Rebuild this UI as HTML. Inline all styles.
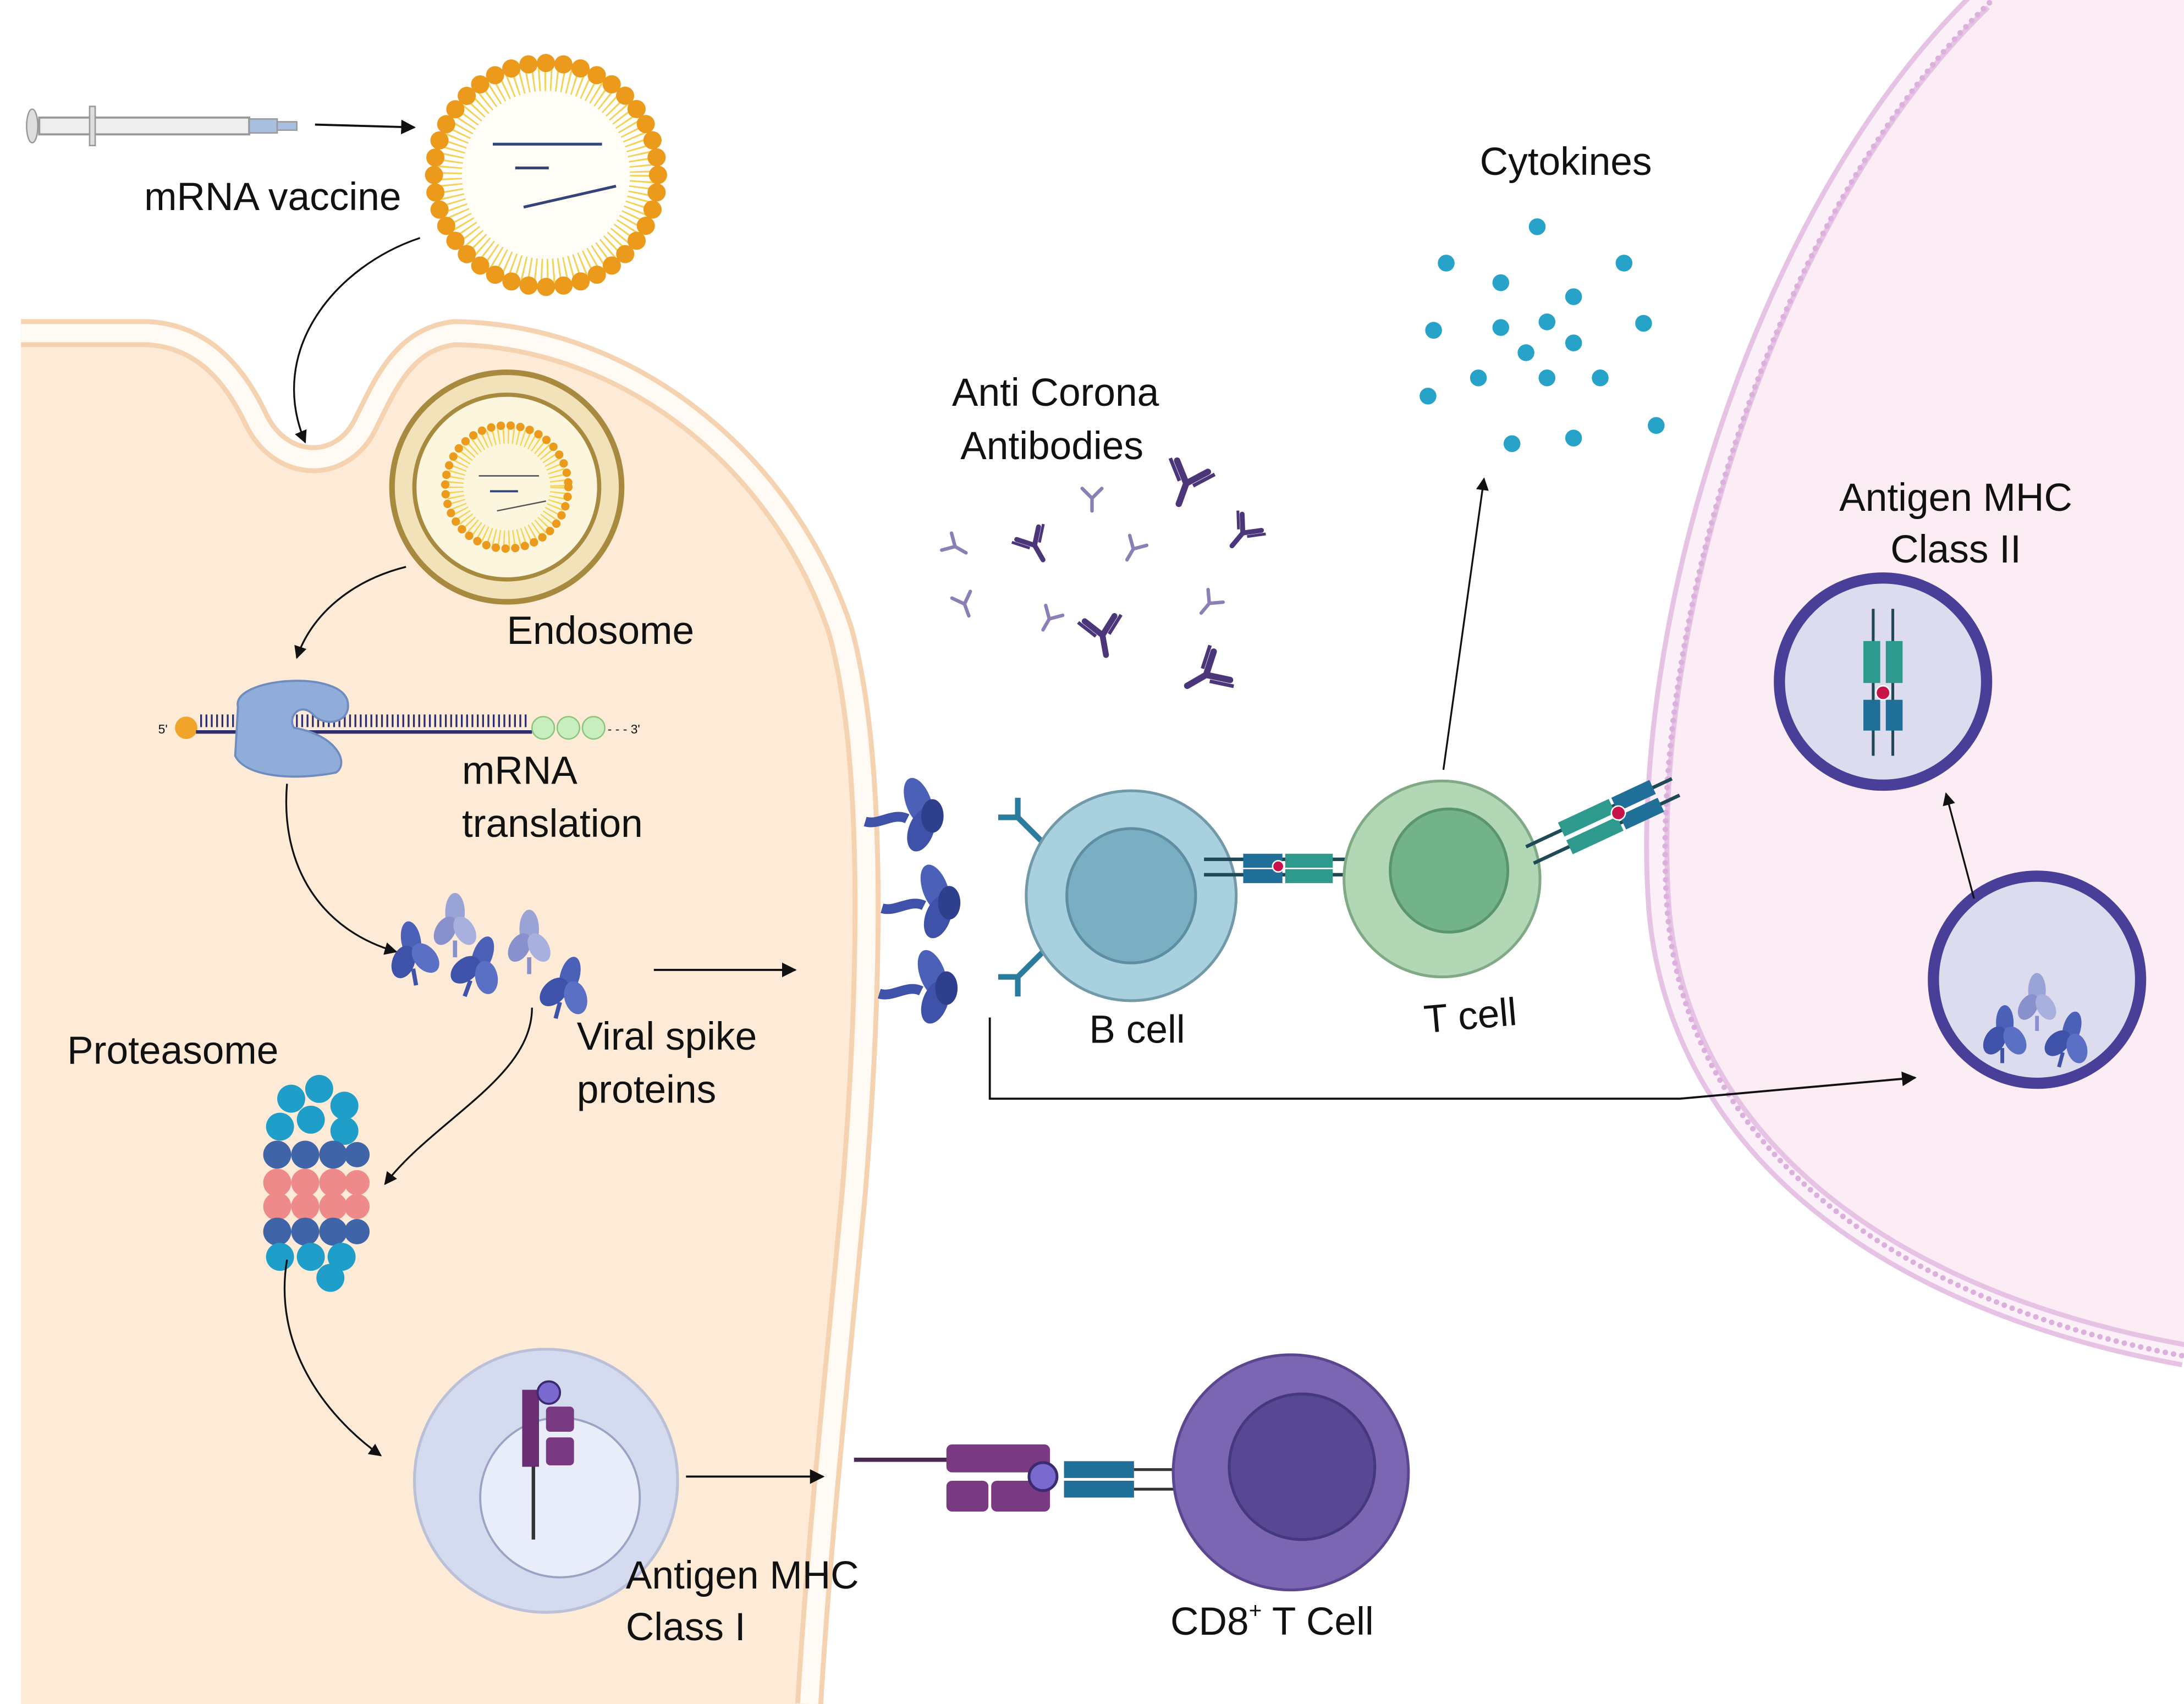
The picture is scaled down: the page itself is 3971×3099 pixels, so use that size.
<!DOCTYPE html>
<html><head><meta charset="utf-8"><style>
html,body{margin:0;padding:0;background:#fff}
svg{display:block}
text{font-family:"Liberation Sans",sans-serif;fill:#111}
</style></head><body>
<svg width="3971" height="3099" viewBox="0 0 1560 1217.5" preserveAspectRatio="none" xmlns="http://www.w3.org/2000/svg">
<defs>
<marker id="ah" viewBox="0 0 10 10" refX="9" refY="5" markerWidth="7" markerHeight="7" orient="auto-start-reverse"><path d="M0,0 L10,5 L0,10 z" fill="#111"/></marker>
<g id="ab"><path d="M0,0 L0,-12 M0,-12 L-9,-22 M0,-12 L9,-22" stroke="#4a3678" stroke-width="3.5" fill="none" stroke-linecap="round"/><path d="M-4,-12 L-13,-22 M4,-12 L13,-22" stroke="#4a3678" stroke-width="2" fill="none"/></g>
<g id="abl"><path d="M0,0 L0,-9 M0,-9 L-7,-16 M0,-9 L7,-16" stroke="#8b7fb6" stroke-width="2.5" fill="none" stroke-linecap="round"/></g>
<g id="spk"><ellipse cx="0" cy="-8" rx="7" ry="14" fill="#4b61b8"/><ellipse cx="-8" cy="6" rx="8" ry="12" fill="#3d52a8" transform="rotate(30 -8 6)"/><ellipse cx="8" cy="6" rx="8" ry="12" fill="#5a70c4" transform="rotate(-30 8 6)"/><path d="M-2,12 L-2,24" stroke="#3d52a8" stroke-width="3"/></g>
<g id="spkl"><ellipse cx="0" cy="-8" rx="7" ry="14" fill="#9aa3d6"/><ellipse cx="-7" cy="5" rx="7" ry="11" fill="#8891cb" transform="rotate(30 -7 5)"/><ellipse cx="7" cy="5" rx="7" ry="11" fill="#a8b0de" transform="rotate(-30 7 5)"/><path d="M0,12 L0,24" stroke="#8891cb" stroke-width="3"/></g>
<g id="mspk"><path d="M0,0 C-10,-5 -20,5 -30,2" stroke="#3d52a8" stroke-width="7" fill="none"/><ellipse cx="8" cy="-12" rx="9" ry="18" fill="#4b61b8" transform="rotate(-20 8 -12)"/><ellipse cx="10" cy="8" rx="9" ry="16" fill="#3d52a8" transform="rotate(20 10 8)"/><ellipse cx="18" cy="-2" rx="8" ry="12" fill="#2e3f8e"/></g>
<g id="bab"><path d="M0,0 L-18,-18 M-18,-18 L-32,-18 M-18,-18 L-18,-32" stroke="#2a7c9e" stroke-width="4" fill="none"/></g>
</defs>

<!-- right pink cell -->
<path d="M1415,0 C1260,150 1170,450 1185,650 C1200,820 1350,930 1560,968 L1560,0 Z" fill="#fcedf5"/>
<path d="M1415,0 C1260,150 1170,450 1185,650 C1200,820 1350,930 1560,968" fill="none" stroke="#e6c2e4" stroke-width="18"/>
<path d="M1415,0 C1260,150 1170,450 1185,650 C1200,820 1350,930 1560,968" fill="none" stroke="#fbf0f8" stroke-width="11"/>
<path d="M1415,0 C1260,150 1170,450 1185,650 C1200,820 1350,930 1560,968" fill="none" stroke="#dcb0dc" stroke-width="4" stroke-dasharray="0 6" stroke-linecap="round" transform="translate(6,2)"/>

<!-- left cell -->
<path d="M15,238 L105,238 C145,240 168,268 183,300 C200,335 242,338 260,305 C275,275 288,242 325,238 C450,240 560,330 600,450 C625,540 622,700 610,850 C598,980 585,1100 578,1217.5 L15,1217.5 Z" fill="#fdebd8"/>
<path d="M15,238 L105,238 C145,240 168,268 183,300 C200,335 242,338 260,305 C275,275 288,242 325,238 C450,240 560,330 600,450 C625,540 622,700 610,850 C598,980 585,1100 578,1217.5" fill="none" stroke="#f5d2b0" stroke-width="20"/>
<path d="M15,238 L105,238 C145,240 168,268 183,300 C200,335 242,338 260,305 C275,275 288,242 325,238 C450,240 560,330 600,450 C625,540 622,700 610,850 C598,980 585,1100 578,1217.5" fill="none" stroke="#fffaf4" stroke-width="13"/>

<!-- syringe -->
<rect x="28" y="84" width="150" height="12" fill="#eee" stroke="#999" stroke-width="1.5"/>
<rect x="178" y="85" width="20" height="10" fill="#a9bfe0" stroke="#999"/>
<rect x="198" y="87" width="14" height="6" fill="#a9bfe0" stroke="#999"/>
<rect x="64" y="76" width="4" height="28" fill="#ddd" stroke="#999"/>
<ellipse cx="23" cy="90" rx="4" ry="12" fill="#ddd" stroke="#999"/>
<line x1="225" y1="89" x2="296" y2="91" stroke="#111" stroke-width="1.5" marker-end="url(#ah)"/>

<!-- LNP -->
<circle cx="390" cy="125" r="68" fill="none" stroke="#f3d25a" stroke-width="24" stroke-dasharray="1.2 3"/>
<circle cx="390" cy="125" r="60" fill="#fffdf5"/>
<circle cx="390" cy="125" r="80" fill="none" stroke="#eb9a1c" stroke-width="13" stroke-dasharray="0 12.56" stroke-linecap="round"/>
<line x1="352" y1="103" x2="430" y2="103" stroke="#33447a" stroke-width="2"/><line x1="368" y1="120" x2="392" y2="120" stroke="#33447a" stroke-width="2"/><line x1="374" y1="148" x2="440" y2="133" stroke="#33447a" stroke-width="2"/>
<text x="103" y="150" font-size="28">mRNA vaccine</text>
<path d="M300,170 C240,190 190,250 218,316" fill="none" stroke="#111" stroke-width="1.3" marker-end="url(#ah)"/>

<!-- endosome -->
<circle cx="362" cy="348" r="82" fill="#f1e2b9" stroke="#a88a3f" stroke-width="4"/>
<circle cx="362" cy="348" r="66" fill="#fbf6dd" stroke="#a88a3f" stroke-width="3"/>
<circle cx="362" cy="348" r="37" fill="none" stroke="#f3d25a" stroke-width="12" stroke-dasharray="1 2.5"/>
<circle cx="362" cy="348" r="44" fill="none" stroke="#eb9a1c" stroke-width="6" stroke-dasharray="0 7" stroke-linecap="round"/>
<line x1="342" y1="340" x2="385" y2="340" stroke="#555" stroke-width="1"/><line x1="350" y1="351" x2="370" y2="351" stroke="#33447a" stroke-width="1.5"/><line x1="355" y1="365" x2="390" y2="358" stroke="#555" stroke-width="1"/>
<text x="362" y="460" font-size="28">Endosome</text>
<path d="M290,405 C250,415 222,440 212,470" fill="none" stroke="#111" stroke-width="1.3" marker-end="url(#ah)"/>

<!-- mRNA translation -->
<text x="113" y="524" font-size="9">5'</text>
<circle cx="133" cy="520" r="8" fill="#f0a52a"/>
<line x1="140" y1="523" x2="380" y2="523" stroke="#2c2e6e" stroke-width="2.5"/>
<line x1="143" y1="515" x2="378" y2="515" stroke="#2c2e6e" stroke-width="9" stroke-dasharray="1.3 2.5"/>
<circle cx="388" cy="520" r="8" fill="#c8eebd" stroke="#8cc47e"/><circle cx="406" cy="520" r="8" fill="#c8eebd" stroke="#8cc47e"/><circle cx="424" cy="520" r="8" fill="#c8eebd" stroke="#8cc47e"/>
<text x="434" y="524" font-size="9" fill="#333">- - - 3'</text>
<path d="M170,505 C165,485 240,478 248,500 C252,515 235,520 225,512 C215,500 205,512 210,520 C240,525 250,545 240,552 C210,558 175,555 168,540 Z" fill="#90acd8" stroke="#6f8cc0" stroke-width="1.5"/>
<text x="330" y="560" font-size="28">mRNA</text>
<text x="330" y="598" font-size="28">translation</text>
<path d="M205,560 C200,620 230,665 283,680" fill="none" stroke="#111" stroke-width="1.3" marker-end="url(#ah)"/>

<!-- spike proteins -->
<use href="#spk" transform="translate(295,680) rotate(-10)"/>
<use href="#spkl" transform="translate(325,660)"/>
<use href="#spk" transform="translate(342,690) rotate(20)"/>
<use href="#spkl" transform="translate(378,672)"/>
<use href="#spk" transform="translate(405,705) rotate(15)"/>
<text x="412" y="750" font-size="28">Viral spike</text>
<text x="412" y="788" font-size="28">proteins</text>
<line x1="467" y1="693" x2="568" y2="693" stroke="#111" stroke-width="1.5" marker-end="url(#ah)"/>
<path d="M380,720 C380,770 310,800 275,846" fill="none" stroke="#111" stroke-width="1.3" marker-end="url(#ah)"/>

<!-- proteasome -->
<text x="48" y="760" font-size="28">Proteasome</text>
<g>
<circle cx="208" cy="785" r="10" fill="#1e9ec9"/><circle cx="228" cy="778" r="10" fill="#1e9ec9"/><circle cx="246" cy="790" r="10" fill="#1e9ec9"/><circle cx="200" cy="805" r="10" fill="#1e9ec9"/><circle cx="222" cy="800" r="10" fill="#1e9ec9"/><circle cx="246" cy="808" r="10" fill="#1e9ec9"/>
<circle cx="198" cy="825" r="10" fill="#3f64a8"/><circle cx="218" cy="825" r="10" fill="#3f64a8"/><circle cx="238" cy="825" r="10" fill="#3f64a8"/><circle cx="255" cy="825" r="9" fill="#3f64a8"/>
<circle cx="198" cy="845" r="10" fill="#ef8a8a"/><circle cx="218" cy="845" r="10" fill="#ef8a8a"/><circle cx="238" cy="845" r="10" fill="#ef8a8a"/><circle cx="255" cy="845" r="9" fill="#ef8a8a"/>
<circle cx="198" cy="862" r="10" fill="#ef8a8a"/><circle cx="218" cy="862" r="10" fill="#ef8a8a"/><circle cx="238" cy="862" r="10" fill="#ef8a8a"/><circle cx="255" cy="862" r="9" fill="#ef8a8a"/>
<circle cx="198" cy="880" r="10" fill="#3f64a8"/><circle cx="218" cy="880" r="10" fill="#3f64a8"/><circle cx="238" cy="880" r="10" fill="#3f64a8"/><circle cx="255" cy="880" r="9" fill="#3f64a8"/>
<circle cx="200" cy="898" r="10" fill="#1e9ec9"/><circle cx="222" cy="898" r="10" fill="#1e9ec9"/><circle cx="244" cy="898" r="10" fill="#1e9ec9"/><circle cx="236" cy="913" r="10" fill="#1e9ec9"/>
</g>
<path d="M205,900 C195,960 230,1010 272,1040" fill="none" stroke="#111" stroke-width="1.3" marker-end="url(#ah)"/>

<!-- MHC I vesicle -->
<circle cx="390" cy="1058" r="94" fill="#d5dbee" stroke="#b9c0d8" stroke-width="2"/>
<circle cx="400" cy="1070" r="57" fill="#e9edfa" stroke="#9aa3c4" stroke-width="1.5"/>
<rect x="373" y="993" width="12" height="55" fill="#6a2d72"/><rect x="390" y="1005" width="20" height="18" rx="3" fill="#7a3a82"/><rect x="390" y="1027" width="20" height="20" rx="3" fill="#7a3a82"/>
<circle cx="392" cy="995" r="8" fill="#7a6ad0" stroke="#3b2a70" stroke-width="1.5"/>
<line x1="381" y1="1048" x2="381" y2="1100" stroke="#333" stroke-width="2.5"/>
<text x="447" y="1135" font-size="28">Antigen MHC</text>
<text x="447" y="1172" font-size="28">Class I</text>
<line x1="490" y1="1055" x2="588" y2="1055" stroke="#111" stroke-width="1.5" marker-end="url(#ah)"/>

<!-- MHC I on membrane + CD8 -->
<line x1="610" y1="1043" x2="678" y2="1043" stroke="#4a2a55" stroke-width="3"/>
<rect x="676" y="1032" width="74" height="20" rx="4" fill="#7a3a82"/>
<rect x="676" y="1058" width="30" height="22" rx="4" fill="#7a3a82"/><rect x="708" y="1058" width="42" height="22" rx="4" fill="#7a3a82"/>
<circle cx="745" cy="1055" r="10" fill="#7a6ad0" stroke="#3b2a70" stroke-width="2"/>
<rect x="760" y="1044" width="50" height="12" fill="#1f6f98"/><rect x="760" y="1058" width="50" height="12" fill="#1f6f98"/>
<line x1="810" y1="1050" x2="845" y2="1050" stroke="#333" stroke-width="2"/><line x1="810" y1="1064" x2="845" y2="1064" stroke="#333" stroke-width="2"/>
<circle cx="922" cy="1052" r="84" fill="#7a66b2" stroke="#5a4790" stroke-width="2"/>
<circle cx="930" cy="1048" r="52" fill="#574896" stroke="#46387e" stroke-width="2"/>
<text x="836" y="1168" font-size="28">CD8<tspan font-size="16" dy="-12">+</tspan><tspan dy="12"> T Cell</tspan></text>

<!-- antibodies -->
<text x="680" y="290" font-size="28">Anti Corona</text>
<text x="686" y="328" font-size="28">Antibodies</text>
<use href="#ab" transform="translate(842,360) rotate(20) scale(1.3)"/>
<use href="#abl" transform="translate(780,365)"/>
<use href="#ab" transform="translate(745,400) rotate(-30)"/>
<use href="#abl" transform="translate(690,395) rotate(-60)"/>
<use href="#abl" transform="translate(805,400) rotate(30)"/>
<use href="#ab" transform="translate(880,390) rotate(40)"/>
<use href="#abl" transform="translate(692,440) rotate(-20)"/>
<use href="#abl" transform="translate(745,450) rotate(30)"/>
<use href="#ab" transform="translate(790,468) rotate(-10) scale(1.2)"/>
<use href="#abl" transform="translate(858,438) rotate(40)"/>
<use href="#ab" transform="translate(848,490) rotate(60) scale(1.3)"/>

<!-- cytokines -->
<text x="1057" y="125" font-size="28">Cytokines</text>
<g fill="#27a2c9">
<circle cx="1098" cy="162" r="6"/><circle cx="1033" cy="188" r="6"/><circle cx="1160" cy="188" r="6"/><circle cx="1072" cy="202" r="6"/><circle cx="1124" cy="212" r="6"/><circle cx="1024" cy="236" r="6"/><circle cx="1072" cy="234" r="6"/><circle cx="1105" cy="230" r="6"/><circle cx="1174" cy="231" r="6"/><circle cx="1124" cy="245" r="6"/><circle cx="1090" cy="252" r="6"/><circle cx="1056" cy="270" r="6"/><circle cx="1105" cy="270" r="6"/><circle cx="1143" cy="270" r="6"/><circle cx="1020" cy="283" r="6"/><circle cx="1183" cy="304" r="6"/><circle cx="1080" cy="317" r="6"/><circle cx="1124" cy="313" r="6"/>
</g>
<line x1="1031" y1="550" x2="1060" y2="342" stroke="#111" stroke-width="1.3" marker-end="url(#ah)"/>

<!-- membrane spikes -->
<use href="#mspk" transform="translate(648,585)"/>
<use href="#mspk" transform="translate(660,647)"/>
<use href="#mspk" transform="translate(658,708)"/>

<!-- B cell -->
<use href="#bab" transform="translate(745,602)"/>
<use href="#bab" transform="translate(745,680) scale(1,-1)"/>
<circle cx="808" cy="640" r="75" fill="#a9d0de" stroke="#7199a8" stroke-width="2"/>
<ellipse cx="808" cy="640" rx="46" ry="48" fill="#7aaec2" stroke="#5d8ea2" stroke-width="2"/>
<text x="778" y="745" font-size="28">B cell</text>

<!-- TCR-MHC between -->
<line x1="860" y1="614" x2="985" y2="614" stroke="#1f4a55" stroke-width="2.5"/><line x1="860" y1="625" x2="985" y2="625" stroke="#1f4a55" stroke-width="2.5"/>
<rect x="888" y="610" width="28" height="10" fill="#1f6f98"/><rect x="888" y="621" width="28" height="10" fill="#1f6f98"/>
<rect x="918" y="610" width="34" height="10" fill="#2e9a8e"/><rect x="918" y="621" width="34" height="10" fill="#2e9a8e"/>
<circle cx="913" cy="619" r="4" fill="#c8124a" stroke="#fff"/>

<!-- T cell -->
<circle cx="1030" cy="628" r="70" fill="#b1d7b5" stroke="#80a986" stroke-width="2"/>
<ellipse cx="1035" cy="622" rx="42" ry="44" fill="#72b38a" stroke="#5b9570" stroke-width="2"/>
<text x="1018" y="738" font-size="28" transform="rotate(-5 1018 738)">T cell</text>
<g transform="translate(1090,605) rotate(-25)">
<line x1="0" y1="0" x2="115" y2="0" stroke="#1f4a55" stroke-width="2.5"/><line x1="0" y1="13" x2="115" y2="13" stroke="#1f4a55" stroke-width="2.5"/>
<rect x="28" y="-6" width="40" height="11" fill="#2e9a8e"/><rect x="28" y="8" width="40" height="11" fill="#2e9a8e"/>
<rect x="70" y="-6" width="30" height="11" fill="#1f6f98"/><rect x="70" y="8" width="30" height="11" fill="#1f6f98"/>
<circle cx="70" cy="6" r="5" fill="#c8124a" stroke="#fff"/>
</g>

<!-- connector to MHC II -->
<polyline points="707,727 707,785 1200,785 1368,770" fill="none" stroke="#111" stroke-width="1.5" marker-end="url(#ah)"/>

<!-- MHC II -->
<text x="1397" y="365" font-size="28" text-anchor="middle">Antigen MHC</text>
<text x="1397" y="402" font-size="28" text-anchor="middle">Class II</text>
<circle cx="1345" cy="487" r="74" fill="#dcdcee" stroke="#4a3f98" stroke-width="8"/>
<line x1="1338" y1="435" x2="1338" y2="540" stroke="#1f4a55" stroke-width="2"/><line x1="1352" y1="435" x2="1352" y2="540" stroke="#1f4a55" stroke-width="2"/>
<rect x="1331" y="458" width="12" height="30" fill="#2e9a8e"/><rect x="1347" y="458" width="12" height="30" fill="#2e9a8e"/>
<rect x="1331" y="500" width="12" height="22" fill="#1f6f98"/><rect x="1347" y="500" width="12" height="22" fill="#1f6f98"/>
<circle cx="1345" cy="495" r="5" fill="#c8124a" stroke="#fff"/>
<circle cx="1455" cy="700" r="74" fill="#dcdcee" stroke="#4a3f98" stroke-width="8"/>
<use href="#spk" transform="translate(1432,738) scale(0.9)"/>
<use href="#spkl" transform="translate(1455,715) scale(0.9)"/>
<use href="#spk" transform="translate(1478,742) rotate(15) scale(0.9)"/>
<line x1="1410" y1="642" x2="1390" y2="567" stroke="#111" stroke-width="1.3" marker-end="url(#ah)"/>
</svg>
</body></html>
